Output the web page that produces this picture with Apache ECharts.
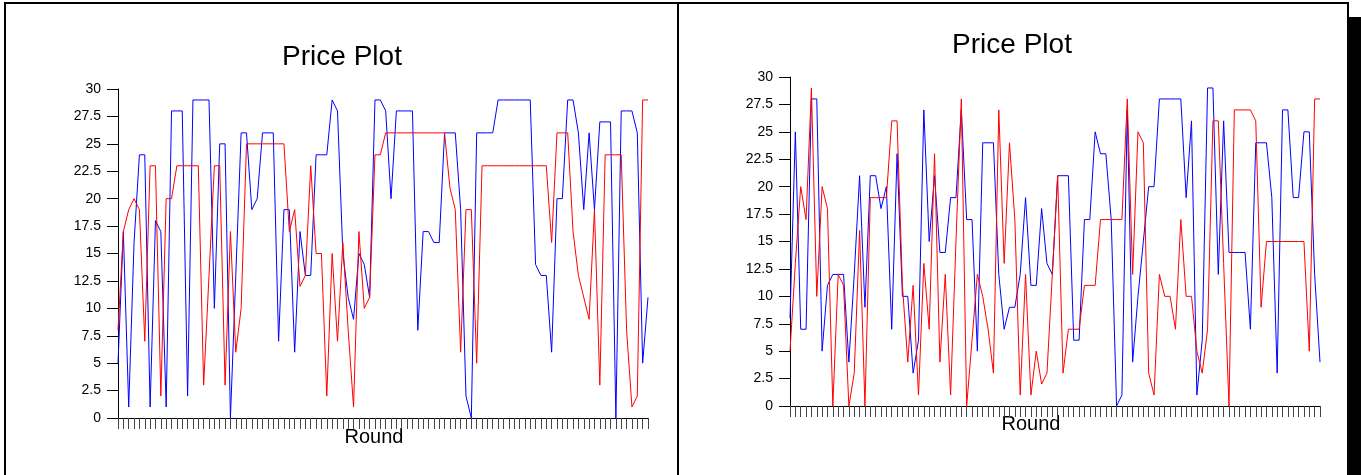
<!DOCTYPE html>
<html>
<head>
<meta charset="utf-8">
<script src="https://cdn.jsdelivr.net/npm/echarts@6/dist/echarts.min.js"></script>
<style>
    html, body {margin: 0; padding: 0; background: #fff;}
    #price_chart {width: 1361px; height: 475px;}
</style>
</head>
<body>
<div id="price_chart"></div>
<script>
// rounds 1..100 (category labels, hidden on the axis)
var rounds = [];
for (var r = 1; r <= 100; r++) {
    rounds.push(r);
}
var yTicks = [0, 2.5, 5, 7.5, 10, 12.5, 15, 17.5, 20, 22.5, 25, 27.5, 30];

// left plot
var leftBlue = [5, 17, 1, 16, 24, 24, 1, 18, 17, 1, 28, 28, 28, 2, 29, 29, 29, 29, 10, 25,
    25, 0, 13, 26, 26, 19, 20, 26, 26, 26, 7, 19, 19, 6, 17, 13, 13, 24, 24, 24,
    29, 28, 15, 11, 9, 15, 14, 11, 29, 29, 28, 20, 28, 28, 28, 28, 8, 17, 17, 16,
    16, 26, 26, 26, 19, 2, 0, 26, 26, 26, 26, 29, 29, 29, 29, 29, 29, 29, 14, 13,
    13, 6, 20, 20, 29, 29, 26, 19, 26, 19, 27, 27, 27, 0, 28, 28, 28, 26, 5, 11];
var leftRed = [8, 17, 19, 20, 19, 7, 23, 23, 2, 20, 20, 23, 23, 23, 23, 23, 3, 13, 23, 23,
    3, 17, 6, 10, 25, 25, 25, 25, 25, 25, 25, 25, 17, 19, 12, 13, 23, 15, 15, 2,
    15, 7, 16, 8, 1, 17, 10, 11, 24, 24, 26, 26, 26, 26, 26, 26, 26, 26, 26, 26,
    26, 26, 21, 19, 6, 19, 19, 5, 23, 23, 23, 23, 23, 23, 23, 23, 23, 23, 23, 23,
    23, 16, 26, 26, 26, 17, 13, 11, 9, 19, 3, 24, 24, 24, 24, 8, 1, 2, 29, 29];

// right plot
var rightBlue = [8, 25, 7, 7, 28, 28, 5, 11, 12, 12, 12, 4, 12, 21, 9, 21, 21, 18, 20, 7,
    23, 10, 10, 3, 6, 27, 15, 21, 14, 14, 19, 19, 27, 17, 17, 5, 24, 24, 24, 12,
    7, 9, 9, 12, 19, 11, 11, 18, 13, 12, 21, 21, 21, 6, 6, 17, 17, 25, 23, 23,
    17, 0, 1, 27, 4, 10, 15, 20, 20, 28, 28, 28, 28, 28, 19, 26, 1, 6, 29, 29,
    12, 26, 14, 14, 14, 14, 7, 24, 24, 24, 19, 3, 27, 27, 19, 19, 25, 25, 12, 4];
var rightRed = [5, 13, 20, 17, 29, 10, 20, 18, 0, 12, 11, 0, 3, 16, 0, 19, 19, 19, 19, 26,
    26, 11, 4, 11, 1, 13, 7, 23, 4, 12, 1, 15, 28, 0, 6, 12, 10, 7, 3, 27,
    13, 24, 17, 1, 12, 1, 5, 2, 3, 12, 21, 3, 7, 7, 7, 11, 11, 11, 17, 17,
    17, 17, 17, 28, 12, 25, 24, 3, 1, 12, 10, 10, 7, 17, 10, 10, 5, 3, 7, 26,
    26, 13, 0, 27, 27, 27, 27, 26, 9, 15, 15, 15, 15, 15, 15, 15, 15, 5, 28, 28];

var FONT = "'Liberation Sans', Arial, sans-serif";

function makeXAxis(gridIndex) {
    return {
        type: 'category', gridIndex: gridIndex, data: rounds, boundaryGap: false,
        axisLine: {show: true, lineStyle: {color: '#000', width: 1}},
        axisTick: {show: true, interval: 0, length: 11, lineStyle: {color: '#444', width: 1}},
        axisLabel: {show: false},
        splitLine: {show: false}
    };
}

function makeYAxis(gridIndex) {
    return {
        type: 'value', gridIndex: gridIndex,
        min: yTicks[0], max: yTicks[yTicks.length - 1], interval: 2.5,
        axisLine: {show: true, lineStyle: {color: '#000', width: 1}},
        axisTick: {show: true, length: 11, lineStyle: {color: '#000', width: 1}},
        axisLabel: {show: true, margin: 17, color: '#000', fontSize: 14, fontFamily: FONT},
        splitLine: {show: false}
    };
}

function makeLine(name, xi, data, color) {
    return {
        name: name, type: 'line', xAxisIndex: xi, yAxisIndex: xi, data: data,
        symbol: 'none', animation: false,
        lineStyle: {color: color, width: 1},
        itemStyle: {color: color}
    };
}

function initPriceChart() {
    var myChart = echarts.init(document.getElementById('price_chart'));
    var option = {
        backgroundColor: '#fff',
        animation: false,
        grid: [
            {left: 118, top: 89, width: 530, height: 329},
            {left: 790, top: 77, width: 530, height: 329}
        ],
        xAxis: [makeXAxis(0), makeXAxis(1)],
        yAxis: [makeYAxis(0), makeYAxis(1)],
        series: [
            makeLine('blue', 0, leftBlue, '#0000ff'),
            makeLine('red', 0, leftRed, '#ff0000'),
            makeLine('blue', 1, rightBlue, '#0000ff'),
            makeLine('red', 1, rightRed, '#ff0000')
        ],
        graphic: [
            // panel frames
            {type: 'line', shape: {x1: 5, y1: 3, x2: 1349, y2: 3}, style: {stroke: '#000', lineWidth: 2}},
            {type: 'line', shape: {x1: 5, y1: 2, x2: 5, y2: 475}, style: {stroke: '#000', lineWidth: 2}},
            {type: 'line', shape: {x1: 678, y1: 2, x2: 678, y2: 475}, style: {stroke: '#000', lineWidth: 2}},
            {type: 'line', shape: {x1: 1348, y1: 2, x2: 1348, y2: 475}, style: {stroke: '#000', lineWidth: 2}},
            {type: 'rect', shape: {x: 1349, y: 17, width: 12, height: 458}, style: {fill: '#000'}},
            // titles
            {type: 'text', x: 342, y: 57, style: {text: 'Price Plot', font: '28px ' + FONT, fill: '#000', align: 'center', verticalAlign: 'middle'}},
            {type: 'text', x: 1012, y: 45, style: {text: 'Price Plot', font: '28px ' + FONT, fill: '#000', align: 'center', verticalAlign: 'middle'}},
            // axis names
            {type: 'text', x: 374, y: 437, style: {text: 'Round', font: '20px ' + FONT, fill: '#000', align: 'center', verticalAlign: 'middle'}},
            {type: 'text', x: 1031, y: 424, style: {text: 'Round', font: '20px ' + FONT, fill: '#000', align: 'center', verticalAlign: 'middle'}}
        ]
    };
    myChart.setOption(option);
}

initPriceChart();
</script>
</body>
</html>
